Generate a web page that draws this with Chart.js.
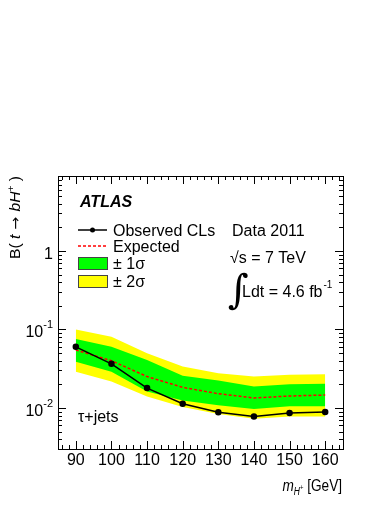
<!DOCTYPE html>
<html>
<head>
<meta charset="utf-8">
<script src="https://cdn.jsdelivr.net/npm/chart.js@4.4.0/dist/chart.umd.min.js"></script>
<style>
  body { margin: 0; background: #fff; }
  canvas { display: block; }
</style>
</head>
<body>
<canvas id="limitChart" width="390" height="505"></canvas>
<script>
// charged Higgs mass points [GeV]
const masses = [90, 100, 110, 120, 130, 140, 150, 160];
// 95% CL upper limits on B(t -> bH+), tau+jets channel
const observed = [0.060, 0.0365, 0.0179, 0.0113, 0.0088, 0.0078, 0.0086, 0.0089];
const expected = [0.0547, 0.040, 0.0251, 0.0183, 0.0152, 0.0134, 0.0142, 0.0146];
const sigma1Up = [0.0753, 0.060, 0.0408, 0.0257, 0.0224, 0.0187, 0.0201, 0.0203];
const sigma1Down = [0.0389, 0.029, 0.0162, 0.0124, 0.0108, 0.0097, 0.0105, 0.0105];
const sigma2Up = [0.100, 0.0806, 0.0497, 0.0337, 0.0277, 0.0251, 0.0264, 0.0269];
const sigma2Down = [0.029, 0.0217, 0.014, 0.0103, 0.0084, 0.0073, 0.0078, 0.0078];

const xTickValues = [90, 100, 110, 120, 130, 140, 150, 160];
const xTickLabels = ['90', '100', '110', '120', '130', '140', '150', '160'];
const yTickValues = [0.01, 0.1, 1];
const yTickLabels = [['10', '-2'], ['10', '-1'], ['1', '']];

const FONT = '"Liberation Sans", Arial, Helvetica, sans-serif';

function toPoints(values) {
    return masses.map((m, i) => ({ x: m, y: values[i] }));
}

function partsWidth(ctx, parts) {
    let width = 0;
    parts.forEach(p => { ctx.font = p[1]; width += ctx.measureText(p[0]).width; });
    return width;
}

// draws a list of [text, font, dy] pieces next to each other
function drawParts(ctx, parts, x, y, align) {
    const width = partsWidth(ctx, parts);
    let cx = x;
    if (align === 'right') cx = x - width;
    if (align === 'center') cx = x - width / 2;
    parts.forEach(p => {
        ctx.font = p[1];
        ctx.fillText(p[0], cx, y + (p[2] || 0));
        cx += ctx.measureText(p[0]).width;
    });
    return width;
}

const atlasDecor = {
    id: 'atlasDecor',
    afterDraw(chart) {
        const ctx = chart.ctx;
        const area = chart.chartArea;
        const xs = chart.scales.x;
        const ys = chart.scales.y;
        ctx.save();
        ctx.strokeStyle = '#000';
        ctx.fillStyle = '#000';
        ctx.lineWidth = 1;
        ctx.textAlign = 'left';
        ctx.textBaseline = 'alphabetic';

        // frame
        ctx.strokeRect(area.left + 0.5, area.top + 0.5, area.right - area.left, area.bottom - area.top);

        // x ticks, bottom and top
        ctx.beginPath();
        for (let v = 86; v <= 164; v += 2) {
            const px = Math.round(xs.getPixelForValue(v)) + 0.5;
            const len = v % 10 === 0 ? 8 : 4;
            ctx.moveTo(px, area.bottom);
            ctx.lineTo(px, area.bottom - len);
            ctx.moveTo(px, area.top);
            ctx.lineTo(px, area.top + len);
        }
        // y ticks, left and right (log)
        for (let e = -3; e <= 0; e++) {
            for (let k = 1; k <= 9; k++) {
                const v = k * Math.pow(10, e);
                if (v < ys.min || v > ys.max) continue;
                const py = Math.round(ys.getPixelForValue(v)) + 0.5;
                const len = k === 1 ? 8 : 4;
                ctx.moveTo(area.left, py);
                ctx.lineTo(area.left + len, py);
                ctx.moveTo(area.right, py);
                ctx.lineTo(area.right - len, py);
            }
        }
        ctx.stroke();

        // tick labels
        ctx.font = '16px ' + FONT;
        ctx.textAlign = 'center';
        xTickValues.forEach((v, i) => {
            ctx.fillText(xTickLabels[i], xs.getPixelForValue(v), area.bottom + 16);
        });
        ctx.textAlign = 'left';
        yTickValues.forEach((v, i) => {
            const py = ys.getPixelForValue(v);
            const lab = yTickLabels[i];
            drawParts(ctx, [
                [lab[0], '16px ' + FONT, 0],
                [lab[1], '11px ' + FONT, -9]
            ], area.left - 5, py + 8, 'right');
        });

        // y axis title
        const yParts = [
            ['B( ', '14px ' + FONT, 0],
            ['t', 'italic 14px ' + FONT, 0],
            [' \u2192 ', '14px "DejaVu Sans", sans-serif', 0],
            ['bH', 'italic 14px ' + FONT, 0],
            ['+', '9px ' + FONT, -6],
            [' )', '14px ' + FONT, 0]
        ];
        const yw = partsWidth(ctx, yParts);
        ctx.save();
        ctx.translate(20, area.top);
        ctx.rotate(-Math.PI / 2);
        ctx.scale(83 / yw, 1);
        drawParts(ctx, yParts, 0, 0, 'right');
        ctx.restore();

        // x axis title
        ctx.save();
        ctx.translate(342, 491);
        ctx.scale(0.85, 1);
        drawParts(ctx, [
            ['m', 'italic 16px ' + FONT, 0],
            ['H', 'italic 10px ' + FONT, 4],
            ['+', '7px ' + FONT, -1],
            [' [GeV]', '16px ' + FONT, 0]
        ], 0, 0, 'right');
        ctx.restore();

        // ATLAS label
        ctx.font = 'italic bold 16px ' + FONT;
        ctx.fillText('ATLAS', 80, 207);

        // legend
        const lx = 78, lw = 29, tx = 113;
        ctx.font = '16px ' + FONT;
        ctx.lineWidth = 1.5;
        ctx.beginPath();
        ctx.moveTo(lx, 230);
        ctx.lineTo(lx + lw, 230);
        ctx.stroke();
        ctx.beginPath();
        ctx.arc(lx + lw / 2, 230, 2.5, 0, Math.PI * 2);
        ctx.fill();
        ctx.fillText('Observed CLs', tx, 236);

        ctx.strokeStyle = '#ff0000';
        ctx.setLineDash([3, 2]);
        ctx.beginPath();
        ctx.moveTo(lx, 246);
        ctx.lineTo(lx + lw, 246);
        ctx.stroke();
        ctx.setLineDash([]);
        ctx.fillText('Expected', tx, 252);

        ctx.lineWidth = 1;
        ctx.strokeStyle = '#444';
        ctx.fillStyle = '#00ff00';
        ctx.fillRect(lx, 257, lw, 12);
        ctx.strokeRect(lx + 0.5, 257.5, lw, 12);
        ctx.fillStyle = '#ffff00';
        ctx.fillRect(lx, 275, lw, 12);
        ctx.strokeRect(lx + 0.5, 275.5, lw, 12);
        ctx.fillStyle = '#000';
        ctx.fillText('\u00b1 1\u03c3', tx, 269);
        ctx.fillText('\u00b1 2\u03c3', tx, 287);

        // run info
        ctx.fillText('Data 2011', 232, 236);
        ctx.fillText('\u221as = 7 TeV', 230, 263);
        ctx.font = '40px "DejaVu Serif", serif';
        ctx.fillText('\u222b', 228, 303);
        const lw2 = drawParts(ctx, [['Ldt = 4.6 fb', '16px ' + FONT, 0]], 242, 297, 'left');
        drawParts(ctx, [['-1', '10px ' + FONT, 0]], 242 + lw2 + 1, 288, 'left');

        // channel
        ctx.font = '16px ' + FONT;
        ctx.fillText('\u03c4+jets', 78, 422);
        ctx.restore();
    }
};

const ctx = document.getElementById('limitChart').getContext('2d');
const limitChart = new Chart(ctx, {
    type: 'line',
    data: {
        datasets: [{
            label: 'Observed CLs',
            data: toPoints(observed),
            borderColor: '#000',
            borderWidth: 1.5,
            pointRadius: 2.5,
            pointBackgroundColor: '#000',
            pointBorderColor: '#000',
            fill: false
        }, {
            label: 'Expected',
            data: toPoints(expected),
            borderColor: '#ff0000',
            borderWidth: 1.5,
            borderDash: [3, 2],
            pointRadius: 0,
            fill: false
        }, {
            label: '1 sigma up',
            data: toPoints(sigma1Up),
            borderColor: 'transparent',
            backgroundColor: '#00ff00',
            pointRadius: 0,
            fill: '+1'
        }, {
            label: '1 sigma down',
            data: toPoints(sigma1Down),
            borderColor: 'transparent',
            pointRadius: 0,
            fill: false
        }, {
            label: '2 sigma up',
            data: toPoints(sigma2Up),
            borderColor: 'transparent',
            backgroundColor: '#ffff00',
            pointRadius: 0,
            fill: '+1'
        }, {
            label: '2 sigma down',
            data: toPoints(sigma2Down),
            borderColor: 'transparent',
            pointRadius: 0,
            fill: false
        }]
    },
    options: {
        responsive: false,
        animation: false,
        devicePixelRatio: 1,
        layout: { padding: { left: 58, top: 176, right: 47, bottom: 56 } },
        elements: { line: { tension: 0 } },
        scales: {
            x: { type: 'linear', min: 85, max: 165, display: false },
            y: { type: 'logarithmic', min: 0.003, max: 9, display: false }
        },
        plugins: {
            legend: { display: false },
            tooltip: { enabled: false }
        }
    },
    plugins: [atlasDecor]
});
</script>
</body>
</html>
